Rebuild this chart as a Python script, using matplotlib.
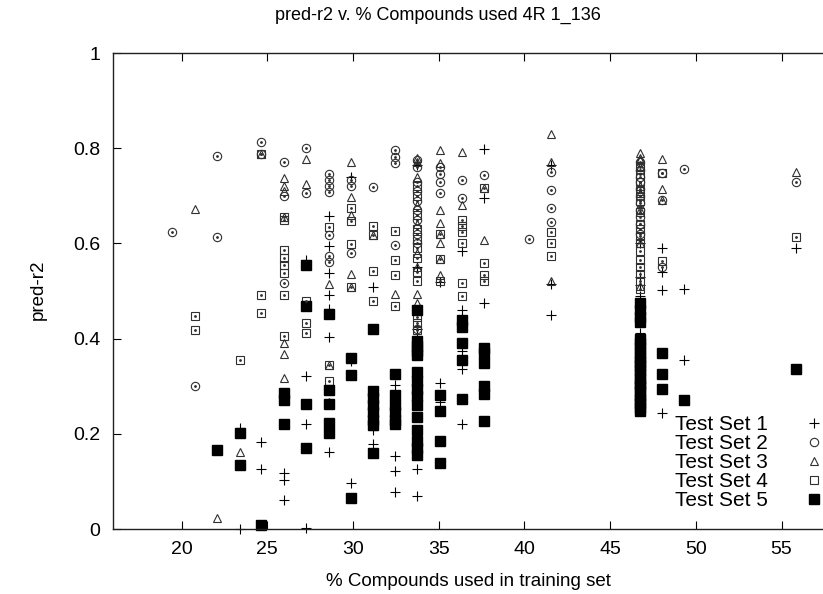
import matplotlib
matplotlib.use("Agg")
import matplotlib.pyplot as plt

plt.rcParams['font.family'] = ['Liberation Sans', 'DejaVu Sans']

title = "pred-r2 v. % Compounds used 4R 1_136"
xlabel = "% Compounds used in training set"
ylabel = "pred-r2"
labels = ["Test Set 1", "Test Set 2", "Test Set 3", "Test Set 4", "Test Set 5"]
xticks = [20, 25, 30, 35, 40, 45, 50, 55]
yticks = [0, 0.2, 0.4, 0.6, 0.8, 1]

# Test Set 1 (+)
set1_x = [23.38, 23.38, 24.65, 24.65, 25.97, 25.97, 25.97,
          27.27, 27.27, 27.27, 27.27,
          28.58, 28.58, 28.58, 28.58, 28.58, 28.58, 28.58,
          29.86, 29.86, 29.86, 31.16, 31.16, 31.16,
          32.47, 32.47, 32.47, 32.47,
          33.75, 33.75, 33.75, 33.75, 33.75, 33.75,
          35.05, 35.05, 35.05,
          36.35, 36.35, 36.35, 36.35, 36.35,
          37.64, 37.64, 37.64,
          41.53, 41.53, 41.53,
          46.72, 46.72, 46.72, 46.72, 46.72,
          48.02, 48.02, 48.02, 48.02,
          49.32, 49.32, 55.82]
set1_y = [0.212, 0.0, 0.183, 0.126, 0.118, 0.103, 0.06,
          0.565, 0.322, 0.22, 0.002,
          0.658, 0.595, 0.537, 0.492, 0.462, 0.403, 0.162,
          0.74, 0.352, 0.097, 0.508, 0.208, 0.179,
          0.303, 0.153, 0.122, 0.077,
          0.765, 0.42, 0.403, 0.55, 0.126, 0.07,
          0.518, 0.307, 0.267,
          0.583, 0.46, 0.375, 0.336, 0.22,
          0.798, 0.695, 0.475,
          0.765, 0.515, 0.45,
          0.60, 0.53, 0.512, 0.49, 0.411,
          0.59, 0.54, 0.502, 0.244,
          0.504, 0.355, 0.59]

# Test Set 2 (open circle)
set2_x = [19.47, 20.8, 22.06, 22.06, 24.65, 24.65,
          25.97, 25.97, 25.97, 27.27, 27.27,
          28.58, 28.58, 28.58, 28.58, 28.58, 28.58, 28.58,
          29.86, 29.86, 29.86, 31.16,
          32.47, 32.47, 32.47, 32.47,
          33.75, 33.75, 33.75, 33.75, 33.75, 33.75, 33.75, 33.75, 33.75, 33.75,
          35.05, 35.05, 35.05, 35.05,
          36.35, 36.35, 37.64, 40.24,
          41.53, 41.53, 41.53, 41.53,
          46.72, 46.72, 46.72, 46.72, 46.72, 46.72, 46.72, 46.72, 46.72, 46.72, 46.72,
          48.02, 48.02, 48.02, 49.32, 55.82]
set2_y = [0.625, 0.30, 0.784, 0.614, 0.812, 0.788,
          0.77, 0.70, 0.516, 0.801, 0.705,
          0.745, 0.733, 0.72, 0.708, 0.618, 0.573, 0.56,
          0.733, 0.72, 0.58, 0.718,
          0.796, 0.782, 0.768, 0.597,
          0.775, 0.76, 0.73, 0.71, 0.69, 0.67, 0.65, 0.62, 0.60, 0.42,
          0.76, 0.745, 0.73, 0.705,
          0.733, 0.695, 0.744, 0.609,
          0.75, 0.712, 0.675, 0.645,
          0.77, 0.755, 0.74, 0.73, 0.715, 0.70, 0.685, 0.67, 0.655, 0.64, 0.62,
          0.747, 0.691, 0.55, 0.756, 0.73]

# Test Set 3 (open triangle)
set3_x = [20.8, 22.04, 23.38, 24.65,
          25.97, 25.97, 25.97, 25.97, 25.97, 25.97, 25.97,
          27.27, 27.27, 28.58, 28.58, 28.58,
          29.86, 29.86, 29.86, 29.86, 29.86, 31.16, 32.47,
          33.75, 33.75, 33.75, 33.75, 33.75, 33.75, 33.75, 33.75, 33.75,
          35.05, 35.05, 35.05, 35.05, 35.05, 35.05, 35.05, 35.05,
          36.35, 36.35, 37.64, 37.64,
          41.53, 41.53, 41.53,
          46.72, 46.72, 46.72, 46.72, 46.72, 46.72, 46.72, 46.72, 46.72,
          48.02, 48.02, 48.02, 55.82]
set3_y = [0.672, 0.023, 0.161, 0.788,
          0.738, 0.72, 0.71, 0.656, 0.39, 0.368, 0.318,
          0.778, 0.725, 0.515, 0.345, 0.267,
          0.77, 0.698, 0.66, 0.536, 0.509, 0.618, 0.494,
          0.78, 0.77, 0.74, 0.68, 0.64, 0.58, 0.55, 0.494, 0.475,
          0.796, 0.769, 0.67, 0.643, 0.62, 0.60, 0.567, 0.534,
          0.793, 0.68, 0.717, 0.607,
          0.83, 0.772, 0.52,
          0.79, 0.78, 0.775, 0.76, 0.72, 0.705, 0.67, 0.60, 0.51,
          0.778, 0.714, 0.691, 0.751]

# Test Set 4 (open square)
set4_x = [20.8, 20.8, 23.38, 24.65, 24.65, 24.65,
          25.97, 25.97, 25.97, 25.97, 25.97, 25.97, 25.97, 25.97,
          27.27, 27.27, 27.27, 28.58, 28.58, 28.58,
          29.86, 29.86, 29.86, 29.86,
          31.16, 31.16, 31.16, 31.16,
          32.47, 32.47, 32.47, 32.47,
          33.75, 33.75, 33.75, 33.75, 33.75, 33.75, 33.75, 33.75, 33.75, 33.75, 33.75, 33.75,
          35.05, 35.05, 35.05,
          36.35, 36.35, 36.35, 36.35, 36.35, 36.35,
          37.64, 37.64, 37.64, 37.64,
          41.53, 41.53, 41.53,
          46.72, 46.72, 46.72, 46.72, 46.72, 46.72, 46.72, 46.72,
          46.72, 46.72, 46.72, 46.72, 46.72, 46.72, 46.72, 46.72,
          48.02, 48.02, 55.82]
set4_y = [0.447, 0.418, 0.355, 0.788, 0.492, 0.453,
          0.656, 0.65, 0.586, 0.57, 0.555, 0.538, 0.492, 0.405,
          0.48, 0.432, 0.411, 0.635, 0.345, 0.311,
          0.675, 0.648, 0.599, 0.509,
          0.637, 0.618, 0.542, 0.479,
          0.627, 0.565, 0.534, 0.468,
          0.72, 0.70, 0.66, 0.63, 0.61, 0.59, 0.57, 0.54, 0.52, 0.446, 0.432, 0.418,
          0.62, 0.567, 0.52,
          0.65, 0.637, 0.625, 0.60, 0.517, 0.49,
          0.717, 0.558, 0.534, 0.52,
          0.625, 0.601, 0.573,
          0.76, 0.745, 0.73, 0.71, 0.69, 0.665, 0.64, 0.63,
          0.615, 0.60, 0.585, 0.565, 0.55, 0.535, 0.52, 0.505,
          0.747, 0.562, 0.613]

# Test Set 5 (filled square)
set5_x = [22.06, 23.38, 23.38, 24.65,
          25.97, 25.97, 25.97,
          27.27, 27.27, 27.27, 27.27,
          28.58, 28.58, 28.58, 28.58, 28.58,
          29.86, 29.86, 29.86,
          31.16, 31.16, 31.16, 31.16, 31.16, 31.16, 31.16, 31.16,
          32.47, 32.47, 32.47, 32.47, 32.47, 32.47,
          33.75, 33.75, 33.75, 33.75, 33.75, 33.75, 33.75, 33.75,
          33.75, 33.75, 33.75, 33.75, 33.75, 33.75, 33.75,
          35.05, 35.05, 35.05, 35.05,
          36.35, 36.35, 36.35, 36.35, 36.35,
          37.64, 37.64, 37.64, 37.64, 37.64, 37.64,
          46.72, 46.72, 46.72, 46.72, 46.72, 46.72, 46.72, 46.72, 46.72, 46.72, 46.72,
          46.72, 46.72, 46.72, 46.72, 46.72, 46.72, 46.72, 46.72, 46.72, 46.72, 46.72,
          48.02, 48.02, 48.02, 49.32, 55.82]
set5_y = [0.165, 0.201, 0.134, 0.008,
          0.285, 0.27, 0.22,
          0.555, 0.468, 0.263, 0.17,
          0.451, 0.293, 0.262, 0.223, 0.202,
          0.36, 0.324, 0.066,
          0.42, 0.29, 0.275, 0.26, 0.245, 0.23, 0.218, 0.159,
          0.326, 0.282, 0.26, 0.245, 0.23, 0.22,
          0.46, 0.395, 0.385, 0.375, 0.365, 0.33, 0.31, 0.295,
          0.28, 0.26, 0.235, 0.207, 0.185, 0.17, 0.155,
          0.281, 0.248, 0.185, 0.139,
          0.44, 0.425, 0.391, 0.355, 0.273,
          0.38, 0.37, 0.348, 0.30, 0.283, 0.227,
          0.475, 0.46, 0.445, 0.435, 0.40, 0.39, 0.38, 0.37, 0.36, 0.35, 0.345,
          0.335, 0.325, 0.315, 0.305, 0.30, 0.29, 0.28, 0.27, 0.265, 0.255, 0.248,
          0.37, 0.326, 0.294, 0.271, 0.336]

W, H = 823, 594
fig = plt.figure(figsize=(W / 100, H / 100), dpi=100)
left_px, right_px, top_px, bottom_px = 113, 833, 53, 529
ax = fig.add_axes([left_px / W, 1 - bottom_px / H,
                   (right_px - left_px) / W, (bottom_px - top_px) / H])

edge = '#303030'
kw_open = dict(linestyle='none', markerfacecolor='none', markeredgecolor=edge,
               markeredgewidth=0.8, clip_on=False)
h1, = ax.plot(set1_x, set1_y, marker='+', color='black', linestyle='none',
              markersize=7, markeredgewidth=0.8, label=labels[0], clip_on=False)
h2, = ax.plot(set2_x, set2_y, marker='o', markersize=6, label=labels[1], **kw_open)
h3, = ax.plot(set3_x, set3_y, marker='^', markersize=6, label=labels[2], **kw_open)
h4, = ax.plot(set4_x, set4_y, marker='s', markersize=6, label=labels[3], **kw_open)
h5, = ax.plot(set5_x, set5_y, marker='s', color='black', linestyle='none',
              markersize=7, label=labels[4], clip_on=False)
# small centre dots of the open markers
ax.plot(set2_x, set2_y, marker='o', markersize=1, color=edge, linestyle='none')
ax.plot(set4_x, set4_y, marker='o', markersize=1, color=edge, linestyle='none')

ax.set_xlim(16, 58)
ax.set_ylim(0, 1)
ax.set_xticks(xticks)
ax.set_yticks(yticks)
ax.set_yticklabels(['0', '0.2', '0.4', '0.6', '0.8', '1'])
ax.tick_params(direction='in', length=6, width=0.8, top=True, right=True,
               labelsize=14, colors='black')
ax.tick_params(axis='x', pad=9)
ax.tick_params(axis='y', pad=9)
for s in ax.spines.values():
    s.set_linewidth(1.0)
    s.set_color('#202020')

fig.text(438 / W, 1 - 15 / H, title, ha='center', va='center', fontsize=13)
fig.text(468 / W, 1 - 581 / H, xlabel, ha='center', va='center', fontsize=13.5)
fig.text(38 / W, 1 - 290 / H, ylabel, ha='center', va='center', fontsize=13.5,
         rotation=90)

leg = ax.legend(handles=[h1, h2, h3, h4, h5], loc='lower right',
                bbox_to_anchor=(824 / W, 1 - 510 / H),
                bbox_transform=fig.transFigure, markerfirst=False,
                frameon=False, fontsize=15, handlelength=1.0,
                handletextpad=1.7, labelspacing=0.0, borderpad=0.0,
                borderaxespad=0.0)

fig.savefig('out.png', dpi=100)
